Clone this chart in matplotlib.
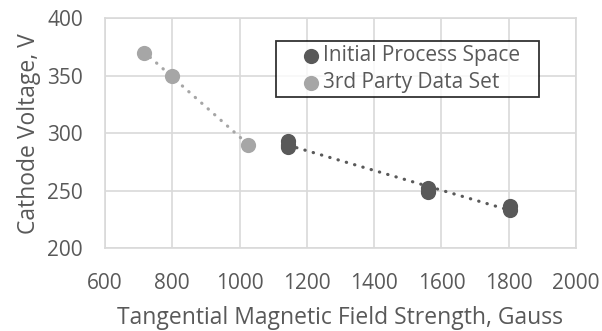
#!/usr/bin/env python3

'''
Cathode voltage vs tangential magnetic field strength, with linear trendlines.
'''

import numpy as np
import matplotlib.pyplot as plt

plt.rcParams['font.family'] = ['Open Sans', 'DejaVu Sans']

# data
initial_x = [1145, 1145, 1145, 1560, 1560, 1805, 1805]
initial_y = [293, 290, 288, 252, 249, 237, 233]
party_x = [715, 800, 1025]
party_y = [370, 350, 290]

xticks = [600, 800, 1000, 1200, 1400, 1600, 1800, 2000]
yticks = [200, 250, 300, 350, 400]

dark = '#595959'
light = '#A6A6A6'
grid = '#D9D9D9'
text = '#595959'

fig = plt.figure(figsize=(6.02, 3.31), dpi=100)
ax = fig.add_axes([0.1744, 0.2498, 0.7824, 0.6958])


def add_trend(x, y, color):
    k, b = np.polyfit(x, y, 1)
    xs = np.array([min(x), max(x)])
    ax.plot(xs, k * xs + b, color=color, lw=2.3,
            linestyle=(0, (0.1, 2.6)), dash_capstyle='round', zorder=2)


add_trend(party_x, party_y, light)
add_trend(initial_x, initial_y, dark)

ax.scatter(initial_x, initial_y, s=120, color=dark, lw=0, zorder=3,
           label='Initial Process Space')
ax.scatter(party_x, party_y, s=120, color=light, lw=0, zorder=3,
           label='3rd Party Data Set')

ax.set_xlim(600, 2000)
ax.set_ylim(200, 400)
ax.set_xticks(xticks)
ax.set_yticks(yticks)
ax.grid(True, color=grid, lw=1.2, zorder=0)
ax.set_axisbelow(True)
for s in ax.spines.values():
    s.set_color(grid)
    s.set_linewidth(1.2)
ax.tick_params(length=0, labelsize=15, colors=text)
ax.tick_params(axis='x', pad=18)
ax.tick_params(axis='y', pad=16)

ax.set_xlabel('Tangential Magnetic Field Strength, Gauss', fontsize=16.5,
              color=text, labelpad=8.5)
ax.set_ylabel('Cathode Voltage, V', fontsize=16.5, color=text, labelpad=4)

leg = ax.legend(loc='upper left', bbox_to_anchor=(0.363, 0.0, 0.558, 0.9),
                mode='expand', borderaxespad=0, fontsize=15, frameon=True,
                fancybox=False, handletextpad=-0.875, labelspacing=0.29,
                borderpad=0.2, markerscale=1.0, handlelength=2.93)
leg.get_frame().set_edgecolor('black')
leg.get_frame().set_linewidth(1.3)
for t in leg.get_texts():
    t.set_color(text)

fig.savefig('out.png', dpi=100)
